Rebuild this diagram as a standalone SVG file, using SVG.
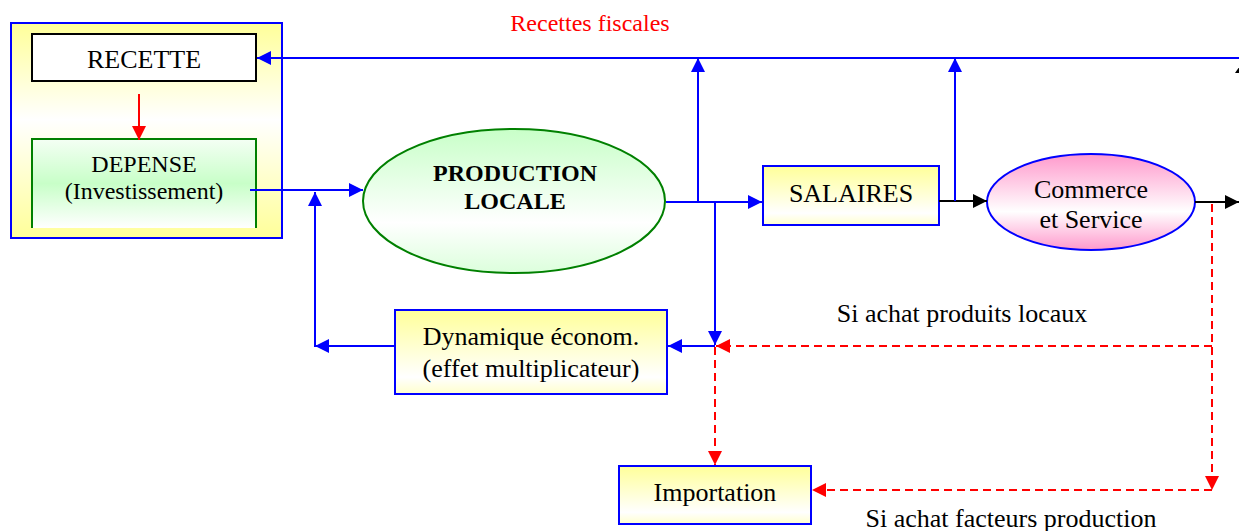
<svg xmlns="http://www.w3.org/2000/svg" width="1239" height="531" viewBox="0 0 1239 531">
<defs>
<style>
text{font-family:"Liberation Serif","Times New Roman",serif;fill:#000;text-anchor:middle}
.t26{font-size:26px}
.t24{font-size:24px}
.b{font-weight:bold}
.blue{stroke:#0000ff;stroke-width:2;fill:none}
.red{stroke:#ff0000;stroke-width:2;fill:none}
.dash{stroke-dasharray:8 5}
.blk{stroke:#000;stroke-width:2;fill:none}
</style>
<linearGradient id="gOuter" x1="0" y1="0" x2="0" y2="1">
<stop offset="0" stop-color="#ffff99"/><stop offset="0.45" stop-color="#ffffff"/><stop offset="1" stop-color="#ffff99"/>
</linearGradient>
<linearGradient id="gYel" x1="0" y1="0" x2="0" y2="1">
<stop offset="0" stop-color="#ffff99"/><stop offset="0.8" stop-color="#ffffff"/><stop offset="1" stop-color="#ffffcc"/>
</linearGradient>
<linearGradient id="gGreenBox" x1="0" y1="0" x2="0" y2="1">
<stop offset="0" stop-color="#f4fff4"/><stop offset="0.5" stop-color="#c8ffc8"/><stop offset="1" stop-color="#ffffff"/>
</linearGradient>
<linearGradient id="gGreen" x1="0" y1="0" x2="0" y2="1">
<stop offset="0" stop-color="#c8ffc8"/><stop offset="0.65" stop-color="#ffffff"/><stop offset="1" stop-color="#dcffdc"/>
</linearGradient>
<linearGradient id="gPink" x1="0" y1="0" x2="0" y2="1">
<stop offset="0" stop-color="#ff99cc"/><stop offset="0.6" stop-color="#ffffff"/><stop offset="1" stop-color="#ff99cc"/>
</linearGradient>
<marker id="aBlue" viewBox="0 0 14 14" markerWidth="14" markerHeight="14" refX="14" refY="7" orient="auto" markerUnits="userSpaceOnUse"><path d="M0,0 L14,7 L0,14 z" fill="#0000ff"/></marker>
<marker id="aRed" viewBox="0 0 14 14" markerWidth="14" markerHeight="14" refX="14" refY="7" orient="auto" markerUnits="userSpaceOnUse"><path d="M0,0 L14,7 L0,14 z" fill="#ff0000"/></marker>
<marker id="aBlk" viewBox="0 0 14 14" markerWidth="14" markerHeight="14" refX="14" refY="7" orient="auto" markerUnits="userSpaceOnUse"><path d="M0,0 L14,7 L0,14 z" fill="#000"/></marker>
</defs>
<rect width="1239" height="531" fill="#ffffff"/>

<g id="budget">
<rect x="11" y="23" width="271" height="215" fill="url(#gOuter)" stroke="#0000ff" stroke-width="2"/>
</g>
<g id="recette">
<rect x="32" y="34" width="224" height="47" fill="#ffffff" stroke="#000" stroke-width="2"/>
<text class="t26" x="144" y="68">RECETTE</text>
</g>
<g id="depense">
<rect x="32" y="139" width="224" height="89" fill="url(#gGreenBox)" stroke="none"/>
<path d="M32,228 L32,139 L256,139 L256,228" fill="none" stroke="#008000" stroke-width="2"/>
<text class="t24" x="144" y="172">DEPENSE</text>
<text class="t24" x="144" y="199">(Investissement)</text>
</g>
<g id="production">
<ellipse cx="514" cy="201" rx="151" ry="72" fill="url(#gGreen)" stroke="#008000" stroke-width="2"/>
<text class="t24 b" x="515" y="181">PRODUCTION</text>
<text class="t24 b" x="515" y="209">LOCALE</text>
</g>
<g id="salaires">
<rect x="763" y="166" width="176" height="59" fill="url(#gYel)" stroke="#0000ff" stroke-width="2"/>
<text class="t26" x="851" y="202">SALAIRES</text>
</g>
<g id="commerce">
<ellipse cx="1091" cy="202" rx="104" ry="48" fill="url(#gPink)" stroke="#0000ff" stroke-width="2"/>
<text class="t26" x="1091" y="198">Commerce</text>
<text class="t26" x="1091" y="228">et Service</text>
</g>
<g id="dynamique">
<rect x="395" y="310" width="272" height="84" fill="url(#gYel)" stroke="#0000ff" stroke-width="2"/>
<text class="t26" x="531" y="345">Dynamique économ.</text>
<text class="t26" x="531" y="377">(effet multiplicateur)</text>
</g>
<g id="importation">
<rect x="619" y="466" width="192" height="58" fill="url(#gYel)" stroke="#0000ff" stroke-width="2"/>
<text class="t26" x="715" y="501">Importation</text>
</g>

<g id="connectors">
<path class="blue" d="M1239,58 L257,58" marker-end="url(#aBlue)"/>
<path class="red" d="M139,94 L139,140" marker-end="url(#aRed)"/>
<path class="blue" d="M250,190 L363,190" marker-end="url(#aBlue)"/>
<path class="blue" d="M395,346 L315,346" marker-end="url(#aBlue)"/>
<path class="blue" d="M315,347 L315,192" marker-end="url(#aBlue)"/>
<path class="blue" d="M666,202 L762,202" marker-end="url(#aBlue)"/>
<path class="blue" d="M698,202 L698,58" marker-end="url(#aBlue)"/>
<path class="blue" d="M715,202 L715,345" marker-end="url(#aBlue)"/>
<path class="blue" d="M715,346 L668,346" marker-end="url(#aBlue)"/>
<path class="blk" d="M939,201 L987,201" marker-end="url(#aBlk)"/>
<path class="blue" d="M955,201 L955,58" marker-end="url(#aBlue)"/>
<path class="blk" d="M1195,202 L1239,202" marker-end="url(#aBlk)"/>
<polygon points="1242,63 1235,73 1249,73" fill="#000"/>
<path class="red dash" d="M1212,346 L716,346" marker-end="url(#aRed)"/>
<path class="red dash" d="M715,347 L715,465" marker-end="url(#aRed)"/>
<path class="red dash" d="M1212,204 L1212,490" marker-end="url(#aRed)"/>
<path class="red dash" d="M1212,490 L812,490" marker-end="url(#aRed)"/>
</g>

<g id="labels">
<text class="t24" x="590" y="31" style="fill:#ff0000">Recettes fiscales</text>
<text class="t26" x="962" y="322">Si achat produits locaux</text>
<text class="t26" x="1011" y="527">Si achat facteurs production</text>
</g>
</svg>
